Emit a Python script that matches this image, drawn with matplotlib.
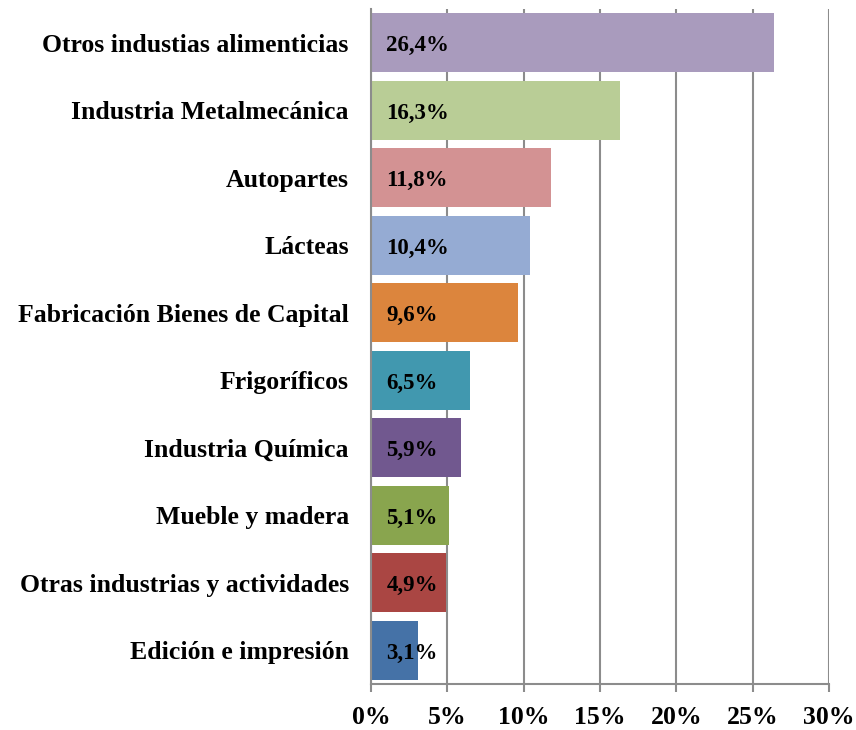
import matplotlib.pyplot as plt
from matplotlib.ticker import MultipleLocator, FuncFormatter

plt.rcParams['font.family'] = ['Liberation Serif', 'DejaVu Serif']
plt.rcParams['font.weight'] = 'bold'

# categories from bottom to top
categories = ['Edición e impresión', 'Otras industrias y actividades', 'Mueble y madera',
              'Industria Química', 'Frigoríficos', 'Fabricación Bienes de Capital',
              'Lácteas', 'Autopartes', 'Industria Metalmecánica', 'Otros industias alimenticias']
values = [3.1, 4.9, 5.1, 5.9, 6.5, 9.6, 10.4, 11.8, 16.3, 26.4]
colors = ['#4572A7', '#AA4643', '#89A54E', '#71588F', '#4198AF',
          '#DC853D', '#95ABD3', '#D39293', '#B9CD96', '#A99BBD']

fig = plt.figure(figsize=(8.56, 7.30), dpi=100)
ax = fig.add_axes([371 / 856, 1 - 684 / 730, 458 / 856, 675 / 730])

ax.barh(range(len(values)), values, height=0.875, color=colors, zorder=2)
ax.set_ylim(-0.5, len(values) - 0.5)
ax.set_xlim(0, 30)

# value labels inside the bars
for i, v in enumerate(values):
    ax.annotate(f'{v:.1f}%'.replace('.', ','), (0, i), xytext=(11, -2.2),
                textcoords='offset points', va='center', ha='left',
                fontsize=16.5, fontweight='bold', zorder=3)

ax.set_yticks(range(len(values)))
ax.set_yticklabels(categories, fontsize=18.5, fontweight='bold')
ax.tick_params(axis='y', length=0, pad=16)

ax.xaxis.set_major_locator(MultipleLocator(5))
ax.xaxis.set_major_formatter(FuncFormatter(lambda x, _: f'{x:.0f}%'))
ax.tick_params(axis='x', length=6, width=1.5, color='#8c8c8c', labelsize=18.5, pad=10)
for lab in ax.get_xticklabels():
    lab.set_fontweight('bold')

ax.grid(axis='x', color='#8c8c8c', linewidth=1.5, zorder=0)
for s in ['top', 'right']:
    ax.spines[s].set_visible(False)
for s in ['left', 'bottom']:
    ax.spines[s].set_color('#8c8c8c')
    ax.spines[s].set_linewidth(1.5)

fig.savefig('out.png', dpi=100)
